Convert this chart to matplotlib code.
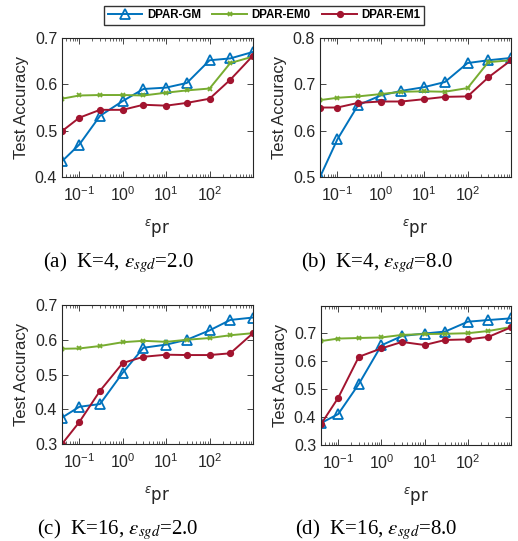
import matplotlib.pyplot as plt
import numpy as np
from matplotlib.lines import Line2D
from matplotlib.ticker import LogLocator, NullFormatter

plt.rcParams["font.family"] = ["Liberation Sans", "DejaVu Sans"]

eps_pr = [0.04, 0.1, 0.3, 1, 3, 10, 30, 100, 300, 1000]

# (a) K=4, eps_sgd=2.0
gm_a = [0.434, 0.470, 0.532, 0.564, 0.590, 0.593, 0.603, 0.652, 0.656, 0.670]
em0_a = [0.569, 0.576, 0.577, 0.577, 0.576, 0.582, 0.587, 0.591, 0.646, 0.660]
em1_a = [0.499, 0.528, 0.545, 0.545, 0.556, 0.554, 0.560, 0.569, 0.610, 0.662]

# (b) K=4, eps_sgd=8.0
gm_b = [0.500, 0.581, 0.655, 0.676, 0.686, 0.694, 0.705, 0.746, 0.752, 0.757]
em0_b = [0.666, 0.671, 0.674, 0.679, 0.684, 0.685, 0.684, 0.692, 0.748, 0.752]
em1_b = [0.650, 0.650, 0.660, 0.663, 0.663, 0.668, 0.673, 0.674, 0.715, 0.752]

# (c) K=16, eps_sgd=2.0
gm_c = [0.376, 0.407, 0.415, 0.505, 0.577, 0.586, 0.600, 0.627, 0.657, 0.664]
em0_c = [0.574, 0.575, 0.582, 0.593, 0.597, 0.594, 0.600, 0.605, 0.613, 0.619]
em1_c = [0.300, 0.363, 0.453, 0.533, 0.551, 0.557, 0.556, 0.556, 0.561, 0.619]

# (d) K=16, eps_sgd=8.0
gm_d = [0.378, 0.410, 0.517, 0.655, 0.688, 0.697, 0.704, 0.739, 0.745, 0.751]
em0_d = [0.670, 0.679, 0.681, 0.683, 0.692, 0.695, 0.696, 0.698, 0.706, 0.720]
em1_d = [0.374, 0.468, 0.614, 0.644, 0.667, 0.656, 0.674, 0.676, 0.685, 0.719]

names = ["DPAR-GM", "DPAR-EM0", "DPAR-EM1"]
captions = [
    r"(a)  K=4, $\epsilon_{sgd}$=2.0",
    r"(b)  K=4, $\epsilon_{sgd}$=8.0",
    r"(c)  K=16, $\epsilon_{sgd}$=2.0",
    r"(d)  K=16, $\epsilon_{sgd}$=8.0",
]
ylims = [(0.4, 0.7), (0.5, 0.8), (0.3, 0.7), (0.3, 0.795)]
yticks = [
    [0.4, 0.5, 0.6, 0.7],
    [0.5, 0.6, 0.7, 0.8],
    [0.3, 0.4, 0.5, 0.6, 0.7],
    [0.3, 0.4, 0.5, 0.6, 0.7],
]

BLUE = "#0072BD"
GREEN = "#77AC30"
RED = "#A2142F"
styles = [
    dict(color=BLUE, marker="^", markersize=6.5, markerfacecolor="none", markeredgewidth=1.3),
    dict(color=GREEN, marker="x", markersize=3.5, markeredgewidth=1.3),
    dict(color=RED, marker="o", markersize=4.2, markerfacecolor=RED),
]

panels = [
    (gm_a, em0_a, em1_a),
    (gm_b, em0_b, em1_b),
    (gm_c, em0_c, em1_c),
    (gm_d, em0_d, em1_d),
]
positions = [
    (0.1197, 0.6728, 0.3687, 0.2569),
    (0.6178, 0.6728, 0.3687, 0.2569),
    (0.1197, 0.1793, 0.3687, 0.2569),
    (0.6197, 0.1775, 0.3668, 0.2569),
]
caption_xy = [(0.228, 0.515), (0.727, 0.515), (0.228, 0.022), (0.727, 0.022)]

fig = plt.figure(figsize=(5.18, 5.41), dpi=100)

for i, series in enumerate(panels):
    ax = fig.add_axes(positions[i])
    for vals, st in zip(series, styles):
        ax.plot(eps_pr, vals, linewidth=1.4, **st)
    ax.set_xscale("log")
    ax.set_xlim(0.04, 1000)
    ax.set_xticks([0.1, 1, 10, 100])
    ax.xaxis.set_minor_locator(LogLocator(base=10, subs=np.arange(2, 10), numticks=20))
    ax.xaxis.set_minor_formatter(NullFormatter())
    ax.set_ylim(*ylims[i])
    ax.set_yticks(yticks[i])
    ax.set_yticklabels([f"{t:.1f}" for t in yticks[i]])
    ax.tick_params(which="both", direction="in", top=True, right=True,
                   labelsize=11.5, colors="#262626", labelcolor="#262626")
    ax.tick_params(which="major", length=4, width=0.6)
    ax.tick_params(which="minor", length=2, width=0.5)
    ax.tick_params(axis="x", which="major", pad=6)
    for sp in ax.spines.values():
        sp.set_linewidth(0.8)
        sp.set_color("#262626")
    ax.set_ylabel("Test Accuracy", fontsize=12, color="#262626", labelpad=4)
    ax.set_xlabel(r"$^{\epsilon}\mathsf{pr}$", fontsize=12, color="#262626", labelpad=9)
    fig.text(caption_xy[i][0], caption_xy[i][1], captions[i], ha="center", va="center",
             fontsize=15, family="Liberation Serif", math_fontfamily="stix")

handles = [Line2D([], [], linewidth=1.4, **st) for st in styles]
leg = fig.legend(handles, names, loc="center", bbox_to_anchor=(0.51, 0.972), ncol=3,
                 frameon=True, fancybox=False, handlelength=3.0, columnspacing=1.0,
                 handletextpad=0.4, borderpad=0.3, prop=dict(weight="bold", size=8.3))
leg.get_frame().set_edgecolor("black")
leg.get_frame().set_linewidth(1.0)

fig.savefig("out.png", dpi=100)
